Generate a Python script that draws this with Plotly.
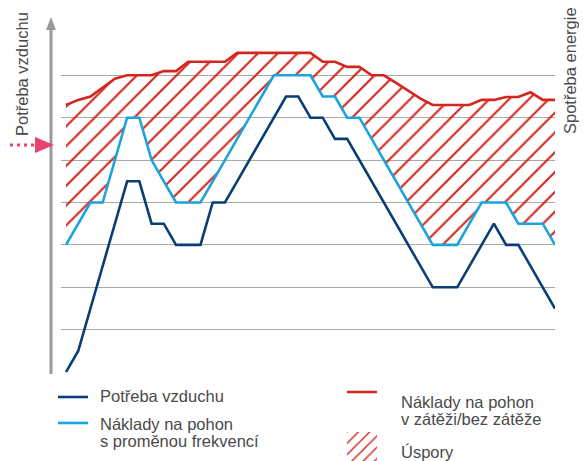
import plotly.graph_objects as go

W, H = 587, 461
OFF = 8  # page body margin offset in the browser

# ---- data (grid units 0..8, one point per time step) ----
steps = list(range(41))
air_demand = [0, 0.5, 1.5, 2.5, 3.5, 4.5, 4.5, 3.5, 3.5, 3.0, 3.0, 3.0, 4.0, 4.0,
              4.5, 5.0, 5.5, 6.0, 6.5, 6.5, 6.0, 6.0, 5.5, 5.5, 5.0, 4.5, 4.0, 3.5,
              3.0, 2.5, 2.0, 2.0, 2.0, 2.5, 3.0, 3.5, 3.0, 3.0, 2.5, 2.0, 1.5]
vfd_cost = [3.0, 3.5, 4.0, 4.0, 5.0, 6.0, 6.0, 5.0, 4.5, 4.0, 4.0, 4.0, 4.5, 5.0,
            5.5, 6.0, 6.5, 7.0, 7.0, 7.0, 7.0, 6.5, 6.5, 6.0, 6.0, 5.5, 5.0, 4.5,
            4.0, 3.5, 3.0, 3.0, 3.0, 3.5, 4.0, 4.0, 4.0, 3.5, 3.5, 3.5, 3.0]
load_unload_cost = [6.3, 6.42, 6.5, 6.72, 6.92, 7.0, 7.0, 7.0, 7.1, 7.1, 7.32, 7.32,
                    7.32, 7.32, 7.53, 7.53, 7.53, 7.53, 7.53, 7.53, 7.53, 7.32, 7.32,
                    7.2, 7.2, 7.0, 7.0, 6.82, 6.64, 6.45, 6.3, 6.3, 6.3, 6.3, 6.42,
                    6.42, 6.49, 6.49, 6.6, 6.42, 6.42]

name_air = "Potřeba vzduchu"
name_vfd = ["Náklady na pohon", "s proměnou frekvencí"]
name_lu = ["Náklady na pohon", "v zátěži/bez zátěže"]
name_sav = "Úspory"
title_left = "Potřeba vzduchu"
title_right = "Spotřeba energie"

C_BLUE = "#0b3d77"
C_CYAN = "#1ba3dc"
C_RED = "#d2261e"
C_GRID = "#a9a9a9"
C_TXT = "#4a4a4a"
C_AXIS = "#9a9a9a"
C_PINK = "#e8436c"
FONT = "Liberation Sans Narrow, Arial Narrow, sans-serif"
FS = 16.5

def px(x):
    return (x - OFF) / W

def py(y):
    return 1 - (y - OFF) / H

fig = go.Figure()

# savings hatch between variable-frequency and load/unload costs
fig.add_trace(go.Scatter(x=steps, y=vfd_cost, mode="lines", line=dict(width=0),
                         showlegend=False, hoverinfo="skip"))
fig.add_trace(go.Scatter(x=steps, y=load_unload_cost, mode="lines", line=dict(width=0),
                         fill="tonexty", fillcolor="rgba(255,255,255,0)",
                         fillpattern=dict(shape="/", size=14, solidity=0.15, fgopacity=1,
                                          fgcolor=C_RED, bgcolor="rgba(255,255,255,0)"),
                         showlegend=False, hoverinfo="skip"))

fig.add_trace(go.Scatter(x=steps, y=air_demand, mode="lines",
                         line=dict(color=C_BLUE, width=2.6), showlegend=False))
fig.add_trace(go.Scatter(x=steps, y=vfd_cost, mode="lines",
                         line=dict(color=C_CYAN, width=2.6), showlegend=False))
fig.add_trace(go.Scatter(x=steps, y=load_unload_cost, mode="lines",
                         line=dict(color=C_RED, width=2.6), showlegend=False))

# legend swatch for savings
fig.add_trace(go.Scatter(x=[0, 1, 1, 0, 0], y=[0, 0, 1, 1, 0], mode="lines",
                         line=dict(width=0), fill="toself",
                         fillcolor="rgba(255,255,255,0)",
                         fillpattern=dict(shape="/", size=8, solidity=0.18, fgopacity=1,
                                          fgcolor=C_RED, bgcolor="rgba(255,255,255,0)"),
                         xaxis="x2", yaxis="y2", showlegend=False, hoverinfo="skip"))

x0_px, step_px = 66, 12.225
xr = [(61 - x0_px) / step_px, (555 - x0_px) / step_px]

fig.update_layout(
    width=W, height=H,
    margin=dict(l=0, r=0, t=0, b=0),
    paper_bgcolor="white", plot_bgcolor="white",
    xaxis=dict(domain=[px(61), px(555)], range=xr, showgrid=False, zeroline=False,
               showticklabels=False, ticks="", showline=False),
    yaxis=dict(domain=[py(372.5), py(32.5)], range=[-0.01, 8.01], dtick=1, tick0=0,
               showgrid=True, gridcolor=C_GRID, gridwidth=1, zeroline=False,
               showticklabels=False, ticks="", showline=False),
    xaxis2=dict(domain=[px(347), px(377)], range=[0, 1], visible=False, anchor="y2"),
    yaxis2=dict(domain=[py(468), py(432)], range=[0, 1], visible=False, anchor="x2"),
    font=dict(family=FONT, color=C_TXT, size=FS),
    showlegend=False,
)

shapes = []
# vertical axis with arrow
shapes.append(dict(type="line", xref="paper", yref="paper", x0=px(51), x1=px(51),
                   y0=py(374), y1=py(28), line=dict(color=C_AXIS, width=3)))
shapes.append(dict(type="path", xref="paper", yref="paper",
                   path=f"M {px(46)},{py(30)} L {px(56)},{py(30)} L {px(51)},{py(17)} Z",
                   fillcolor=C_AXIS, line=dict(width=0)))
# pink dotted pointer
shapes.append(dict(type="line", xref="paper", yref="paper", x0=px(3), x1=px(36),
                   y0=py(145), y1=py(145), line=dict(color=C_PINK, width=3, dash="3px,4px")))
shapes.append(dict(type="path", xref="paper", yref="paper",
                   path=f"M {px(35)},{py(137)} L {px(35)},{py(153)} L {px(54)},{py(145)} Z",
                   fillcolor=C_PINK, line=dict(width=0)))
# legend lines
for (xa, xb, yy, col) in [(58, 88, 397, C_BLUE), (58, 88, 423, C_CYAN), (347, 377, 392, C_RED)]:
    shapes.append(dict(type="line", xref="paper", yref="paper", x0=px(xa), x1=px(xb),
                       y0=py(yy), y1=py(yy), line=dict(color=col, width=2.6)))
fig.update_layout(shapes=shapes)

ann = []
def text(t, x, y, **kw):
    d = dict(text=t, xref="paper", yref="paper", x=px(x), y=py(y), showarrow=False,
             xanchor="left", yanchor="middle", font=dict(family=FONT, size=FS, color=C_TXT))
    d.update(kw)
    ann.append(d)

text(name_air, 98, 396)
text(name_vfd[0], 98, 423.5)
text(name_vfd[1], 98, 440.5)
text(name_lu[0], 399, 401.5)
text(name_lu[1], 399, 418.5)
text(name_sav, 399, 452)
text(title_left, 22, 74, xanchor="center", textangle=-90)
text(title_right, 570, 71, xanchor="center", textangle=-90)
fig.update_layout(annotations=ann)

fig.write_html("out.html")
